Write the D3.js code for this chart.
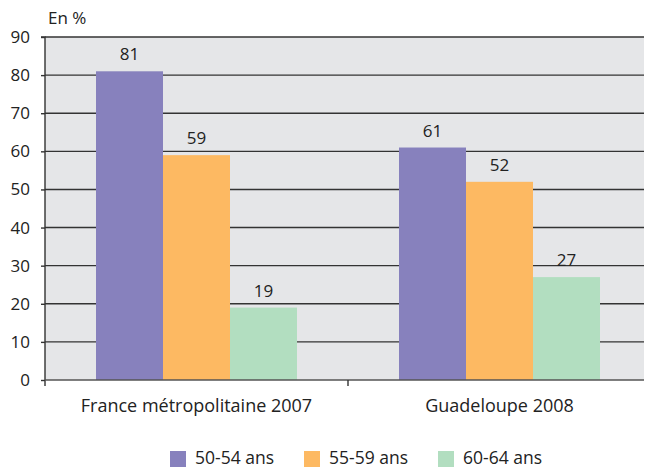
<!DOCTYPE html>
<html>
<head>
<meta charset="utf-8">
<script src="https://cdn.jsdelivr.net/npm/d3@7"></script>
<style>
body { margin: 0; background: #fff; }
text { font-family: "Open Sans", "DejaVu Sans", sans-serif; fill: #222; }
</style>
</head>
<body>
<div id="chart"></div>
<script>
var categories = ["France métropolitaine 2007", "Guadeloupe 2008"];
var series = ["50-54 ans", "55-59 ans", "60-64 ans"];
var values5054 = [81, 61];
var values5559 = [59, 52];
var values6064 = [19, 27];
var yTicks = [0, 10, 20, 30, 40, 50, 60, 70, 80, 90];

var colors = ["#8781bd", "#fdb962", "#b2dec0"];
var allValues = [values5054, values5559, values6064];

var width = 645, height = 469;
var plotLeft = 45, plotRight = 644, plotTop = 37, plotBottom = 380;

var svg = d3.select("#chart").append("svg")
  .attr("width", width)
  .attr("height", height);

var y = d3.scaleLinear().domain([0, 90]).range([plotBottom, plotTop]);

// group band, extends a bit past the plot's right edge like the original
var x0 = d3.scaleBand().domain(categories).range([plotLeft, 651]).padding(0);
var x1 = d3.scaleBand().domain(series).range([51, 252]).padding(0);

svg.append("rect")
  .attr("x", plotLeft).attr("y", plotTop)
  .attr("width", plotRight - plotLeft).attr("height", plotBottom - plotTop)
  .attr("fill", "#e5e6e8");

// gridlines
svg.append("g").selectAll("line")
  .data(yTicks.filter(function(d) { return d > 0; }))
  .enter().append("line")
  .attr("x1", plotLeft).attr("x2", plotRight)
  .attr("y1", function(d) { return y(d); })
  .attr("y2", function(d) { return y(d); })
  .attr("stroke", "#333")
  .attr("stroke-width", 1.4);

// bars
var data = [];
categories.forEach(function(c, i) {
  series.forEach(function(s, j) {
    data.push({ cat: c, ser: s, value: allValues[j][i], color: colors[j] });
  });
});

svg.append("g").selectAll("rect")
  .data(data)
  .enter().append("rect")
  .attr("x", function(d) { return x0(d.cat) + x1(d.ser); })
  .attr("y", function(d) { return y(d.value); })
  .attr("width", x1.bandwidth())
  .attr("height", function(d) { return plotBottom - y(d.value); })
  .attr("fill", function(d) { return d.color; });

svg.append("g").selectAll("text")
  .data(data)
  .enter().append("text")
  .attr("x", function(d) { return x0(d.cat) + x1(d.ser) + x1.bandwidth() / 2; })
  .attr("y", function(d) { return y(d.value) - 11; })
  .attr("text-anchor", "middle")
  .style("font-size", "17px")
  .text(function(d) { return d.value; });

// y axis
var yAxis = svg.append("g")
  .attr("transform", "translate(" + plotLeft + ",0)")
  .call(d3.axisLeft(y).tickValues(yTicks).tickSize(4).tickPadding(11));
yAxis.select(".domain").attr("stroke", "#333").attr("stroke-width", 1.4)
  .attr("d", "M-4," + plotTop + "H0V" + (plotBottom + 6));
yAxis.selectAll(".tick line").attr("stroke", "#333").attr("stroke-width", 1.4);
yAxis.selectAll(".tick text").style("font-size", "17px").attr("fill", "#222");

// x axis
svg.append("line")
  .attr("x1", plotLeft).attr("x2", plotRight)
  .attr("y1", plotBottom).attr("y2", plotBottom)
  .attr("stroke", "#555").attr("stroke-width", 1.5);
svg.append("line")
  .attr("x1", x0(categories[1])).attr("x2", x0(categories[1]))
  .attr("y1", plotBottom).attr("y2", plotBottom + 6)
  .attr("stroke", "#333").attr("stroke-width", 1.4);

svg.append("g").selectAll("text")
  .data(categories)
  .enter().append("text")
  .attr("x", function(d) { return x0(d) + x0.bandwidth() / 2; })
  .attr("y", 412)
  .attr("text-anchor", "middle")
  .style("font-size", "18px")
  .text(function(d) { return d; });

svg.append("text")
  .attr("x", 48).attr("y", 24)
  .style("font-size", "17px")
  .text("En %");

// legend
var legendX = [170, 304, 438];
var legend = svg.append("g").selectAll("g")
  .data(series)
  .enter().append("g")
  .attr("transform", function(d, i) { return "translate(" + legendX[i] + ",451)"; });
legend.append("rect")
  .attr("width", 16).attr("height", 16)
  .attr("fill", function(d, i) { return colors[i]; });
legend.append("text")
  .attr("x", 25).attr("y", 12.5)
  .style("font-size", "17.5px")
  .text(function(d) { return d; });
</script>
</body>
</html>
